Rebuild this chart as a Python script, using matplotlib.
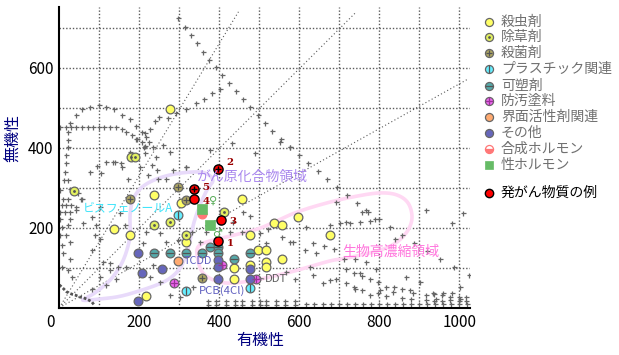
import matplotlib
matplotlib.use('Agg')
import matplotlib.pyplot as plt
from matplotlib.lines import Line2D
import numpy as np

plt.rcParams['font.family'] = ['Noto Sans CJK JP', 'DejaVu Sans']

# ---------------- data (organic value, inorganic value) ----------------
insecticide_x = [277, 137, 177, 237, 305, 318, 457, 537, 557, 597, 678, 477, 498, 518, 518, 518, 557, 437, 437, 217, 477]
insecticide_y = [496, 198, 183, 281, 261, 165, 273, 213, 206, 226, 181, 181, 144, 144, 115, 102, 123, 100, 73, 30, 107]
herbicide_x = [179, 189, 38, 237, 277, 318, 412]
herbicide_y = [377, 377, 291, 207, 215, 182, 240]
fungicide_x = [176, 297, 316, 358]
fungicide_y = [271, 301, 269, 75]
plastic_x = [297, 317, 477]
plastic_y = [232, 42, 50]
plasticizer_x = [237, 277, 317, 358, 378, 398, 398, 437, 477]
plasticizer_y = [137, 137, 137, 137, 152, 152, 137, 121, 137]
antifouling_x = [287, 408, 493]
antifouling_y = [62, 107, 71]
surfactant_x = [296]
surfactant_y = [117]
other_x = [198, 207, 258, 198, 398, 398, 398, 477, 477]
other_y = [137, 86, 97, 17, 119, 101, 71, 98, 71]
synth_hormone_x = [358]
synth_hormone_y = [234]
sex_hormone_x = [356, 377]
sex_hormone_y = [248, 208]
carcinogen_x = [397, 398, 404, 337, 337]
carcinogen_y = [167, 348, 219, 271, 297]
carcinogen_labels = ['1', '2', '3', '4', '5']
carcinogen_cross = [False, True, False, False, True]

legend_labels = ['殺虫剤', '除草剤', '殺菌剤', 'プラスチック関連', '可塑剤', '防汚塗料',
                 '界面活性剤関連', 'その他', '合成ホルモン', '性ホルモン']

# background reference points (+ marks)
bg_x = [57, 78, 99, 118, 137, 158, 177, 193, 206, 216, 225, 235, 243, 43, 27,
        2, 16, 29, 43, 57, 71, 85, 99, 112, 127, 141,
        156, 168, 181, 193, 206, 214, 22, 22, 21, 18, 18, 14,
        239, 250, 277, 260, 95, 118, 139, 158, 177, 318, 317, 272, 292, 341,
        215, 226, 195, 213, 215, 232, 244, 247, 222, 201, 267, 284, 317,
        134, 155, 77, 13, 22, 47, 55, 30, 42, 105, 172,
        22, 27, 2, 10, 6, 18, 2, 14, 27, 2, 27, 6, 22, 2, 18, 6, 27, 10, 27, 6, 22, 31,
        56, 43, 60, 81, 102, 93, 89, 102, 81, 110, 127, 102, 118, 143, 81,
        152, 164, 217, 252, 210, 268, 297, 331, 352, 368, 427, 435, 456, 502, 518, 585, 614, 643,
        718, 756, 768, 789, 839, 918, 981, 1010,
        127, 147, 168, 235, 227, 252, 277, 302, 335,
        568, 589, 627, 635, 660, 693, 718, 739, 752, 802, 835, 885, 918, 943, 981, 1002, 1002,
        718, 737, 757, 777, 797, 818, 837, 858, 878, 937, 958, 978, 999, 1018,
        737, 757, 778, 797, 817, 858, 879, 918, 937, 958, 978, 999, 1018,
        702, 727, 753, 778, 677, 677,
        460, 477, 522, 556, 577, 617, 635, 662, 687, 712, 739, 766, 791, 868, 902, 935, 960,
        377, 431, 489, 552, 577, 693, 362, 381, 402,
        372, 393, 418, 439, 456, 481, 502, 518, 543, 565, 590,
        372, 393, 418, 439, 456, 481, 502, 518, 543, 565, 590,
        617, 638, 660, 680, 700, 720, 740, 760, 780, 800, 820, 840, 860, 880, 900, 920, 940, 960, 980, 1000, 1020]
bg_y = [496, 502, 506, 502, 496, 482, 471, 454, 440, 427, 415, 402, 377, 482, 461,
        452, 452, 452, 452, 452, 452, 452, 452, 452, 452, 452,
        446, 440, 432, 423, 415, 404, 440, 419, 402, 382, 361, 340,
        467, 478, 390, 407, 354, 365, 365, 352, 390, 352, 497, 474, 486, 511,
        436, 448, 421, 401, 386, 357, 344, 323, 332, 351, 321, 344, 351,
        365, 362, 340, 319, 273, 286, 273, 257, 252, 336, 321,
        319, 298, 294, 273, 257, 257, 240, 240, 240, 223, 223, 202, 207, 182, 182, 157, 165, 136, 123, 102, 94, 77,
        273, 244, 211, 227, 252, 207, 182, 173, 144, 115, 94, 77, 57, 73, 48,
        236, 207, 190, 186, 161, 165, 169, 190, 165, 190, 190, 215, 190, 186, 161, 165, 144, 136,
        215, 240, 244, 223, 173, 244, 211, 236,
        111, 102, 102, 107, 77, 65, 32, 27, 52,
        90, 73, 102, 82, 61, 73, 61, 48, 86, 44, 40, 36, 32, 23, 36, 23, 52,
        96, 88, 80, 73, 65, 52, 52, 48, 44, 34, 32, 27, 27, 27,
        51, 44, 33, 38, 29, 25, 23, 19, 17, 17, 19, 17, 17,
        212, 212, 215, 217, 207, 69,
        240, 229, 198, 177, 165, 201, 161, 154, 147, 121, 123, 115, 98, 77, 65, 36, 36,
        394, 411, 386, 415, 402, 265, 522, 536, 546,
        18, 18, 18, 18, 18, 18, 18, 18, 18, 18, 18,
        7, 7, 7, 7, 7, 7, 7, 7, 7, 7, 7,
        9, 9, 9, 9, 9, 9, 9, 9, 9, 9, 9, 9, 9, 9, 9, 9, 9, 9, 9, 9, 9]
# long descending row of + marks
row_x = [298, 314, 329, 344, 359, 375, 392, 408, 424, 442, 460, 478, 498, 515, 533, 555, 578, 600,
         623, 646, 669, 694, 719, 745, 772, 799, 827, 856, 886, 920, 953, 986, 1024]
row_y = [724, 703, 682, 661, 639, 620, 602, 582, 562, 542, 522, 502, 482, 462, 442, 422, 401, 381,
         361, 341, 321, 301, 281, 262, 240, 221, 201, 182, 162, 142, 121, 101, 82]
# dense curve near the origin
dense_x = [0, 6, 10, 14, 18, 24, 31, 39, 50, 60, 70, 81, 87]
dense_y = [57, 52, 48, 44, 40, 37, 34, 32, 27, 25, 21, 15, 7]
# reference rays from the origin: end points
ray_x = [448, 742, 1024]
ray_y = [740, 739, 573]
# region outlines
carc_region_x = [59, 102, 144, 184, 244, 277, 302, 317, 327, 337, 352, 369, 384, 364, 327, 277,
                 232, 202, 184, 177, 177, 169, 154, 127, 89]
carc_region_y = [19, 22, 27, 37, 57, 74, 99, 132, 169, 214, 257, 294, 319, 337, 339, 332,
                 317, 297, 269, 232, 182, 144, 107, 69, 37]
bio_region_x = [352, 427, 502, 589, 669, 744, 802, 844, 872, 882, 872, 844, 802, 719, 677, 589,
                489, 414, 364, 347]
bio_region_y = [157, 179, 199, 237, 262, 279, 287, 282, 262, 227, 194, 164, 144, 124, 117, 92,
                69, 62, 82, 119]

# ---------------- figure ----------------
W, H = 619, 355
fig = plt.figure(figsize=(W / 100, H / 100), dpi=100)
ax = fig.add_axes([59.3 / W, 1 - 307.7 / H, (470 - 59.3) / W, (307.7 - 7) / H])
ax.set_xlim(0, 1027)
ax.set_ylim(0, 752)

for s in ['top', 'right']:
    ax.spines[s].set_visible(False)
for s in ['left', 'bottom']:
    ax.spines[s].set_linewidth(1.5)
    ax.spines[s].set_color('black')
    ax.spines[s].set_zorder(10)

ax.set_xticks([200, 400, 600, 800, 1000])
ax.set_xticks([100, 300, 500, 700, 900], minor=True)
ax.set_yticks([200, 400, 600])
ax.set_yticks([100, 300, 500, 700], minor=True)
ax.tick_params(which='both', length=0, labelsize=11, colors='black')
ax.tick_params(axis='x', pad=4.5)
ax.tick_params(axis='y', pad=4)
ax.grid(which='both', color='#5a5a5a', linewidth=1.0, linestyle=(0, (1, 1.4)), zorder=0)
ax.set_axisbelow(True)
ax.annotate('0', xy=(0, 0), xycoords='data', xytext=(-6.5, -4.5), textcoords='offset points',
            ha='center', va='top', fontsize=11, annotation_clip=False)


def smooth_closed(xs, ys, n=14):
    P = np.column_stack([xs, ys]).astype(float)
    N = len(P)
    out = []
    t = np.linspace(0, 1, n, endpoint=False)[:, None]
    for i in range(N):
        p0, p1, p2, p3 = P[i - 1], P[i], P[(i + 1) % N], P[(i + 2) % N]
        out.append(0.5 * (2 * p1 + (-p0 + p2) * t + (2 * p0 - 5 * p1 + 4 * p2 - p3) * t ** 2
                          + (-p0 + 3 * p1 - 3 * p2 + p3) * t ** 3))
    out.append(P[:1])
    out = np.vstack(out)
    return out[:, 0], out[:, 1]


# rays
for ex, ey in zip(ray_x, ray_y):
    ax.plot([0, ex], [0, ey], color='#5a5a5a', lw=0.8, ls=(0, (1, 2.2)), zorder=1)

# regions
sx, sy = smooth_closed(carc_region_x, carc_region_y)
ax.plot(sx, sy, color='#E8DAFA', lw=2.6, zorder=1.5, solid_capstyle='round')
sx, sy = smooth_closed(bio_region_x, bio_region_y)
ax.plot(sx, sy, color='#FFD8F3', lw=2.6, zorder=1.5, solid_capstyle='round')

# background + marks
ax.plot(bg_x, bg_y, ls='none', marker='+', ms=3.6, mew=0.9, color='#666666', zorder=2)
ax.plot(row_x, row_y, ls='none', marker='+', ms=3.6, mew=0.9, color='#666666', zorder=2)
ax.plot(dense_x, dense_y, color='#555555', lw=2.0, ls=(0, (1, 0.7)), zorder=2)

EDGE = '#666666'
styles = [
    (insecticide_x, insecticide_y, '#FFFF66', None, 0),
    (herbicide_x, herbicide_y, '#E2F060', ('.', 2.2), 0),
    (fungicide_x, fungicide_y, '#B0A862', ('+', 4.2), 0),
    (plastic_x, plastic_y, '#66EEFF', ('|', 6.0), 0),
    (plasticizer_x, plasticizer_y, '#55AAAA', ('_', 6.0), 0),
    (antifouling_x, antifouling_y, '#EE66EE', ('+', 6.0), 0),
    (surfactant_x, surfactant_y, '#FFAA70', None, 0),
    (other_x, other_y, '#6666BB', None, 0),
]
MS = 6.3
for xs, ys, fc, deco, _ in styles:
    ax.plot(xs, ys, ls='none', marker='o', ms=MS, mfc=fc, mec=EDGE, mew=0.9, zorder=5)
    if deco is not None:
        dc = '#993399' if fc == '#EE66EE' else '#555555'
        ax.plot(xs, ys, ls='none', marker=deco[0], ms=deco[1], color=dc, mew=0.9, zorder=5.1)

ax.plot(synth_hormone_x, synth_hormone_y, ls='none', marker='o', ms=MS, fillstyle='bottom',
        mfc='#FF7777', mfcalt='white', mec='#FF7777', mew=0.9, zorder=5)
ax.plot(sex_hormone_x, sex_hormone_y, ls='none', marker='s', ms=7.2, mfc='#66BB66',
        mec='#66BB66', mew=0.5, zorder=5.2)
ax.plot(carcinogen_x, carcinogen_y, ls='none', marker='o', ms=6.6, mfc='#FF0000',
        mec='black', mew=1.0, zorder=6)
cx = [x for x, c in zip(carcinogen_x, carcinogen_cross) if c]
cy = [y for y, c in zip(carcinogen_y, carcinogen_cross) if c]
ax.plot(cx, cy, ls='none', marker='+', ms=4, mew=1.0, color='black', zorder=6.1)
label_dy = [-2.2, 4.5, -1, -1.8, 1.2]
for x, y, lab, dy in zip(carcinogen_x, carcinogen_y, carcinogen_labels, label_dy):
    ax.annotate(lab, xy=(x, y), xytext=(6, dy), textcoords='offset points', ha='left',
                va='center', fontsize=7.4, color='#990000', fontweight='bold',
                family='DejaVu Serif', zorder=7)

# sex symbols
ax.annotate('♀', xy=(sex_hormone_x[0], sex_hormone_y[0]), xytext=(8.5, 5.5), textcoords='offset points',
            ha='center', va='center', fontsize=8, color='#55AA55', family='DejaVu Sans', zorder=7)
ax.annotate('♂', xy=(sex_hormone_x[1], sex_hormone_y[1]), xytext=(5, -6.5), textcoords='offset points',
            ha='center', va='center', fontsize=8, color='#55AA55', family='DejaVu Sans', zorder=7)

# region / compound labels
ax.text(480, 328, 'がん原化合物領域', ha='center', va='center', fontsize=10, color='#AA88EE', zorder=8)
ax.text(830, 140, '生物高濃縮領域', ha='center', va='center', fontsize=10, color='#FF77DD', zorder=8)
ax.text(173, 249, 'ビスフェノールA', ha='center', va='center', fontsize=8.6, color='#3FE4FA', zorder=8)
ax.text(383, 117, 'TCDD', ha='right', va='center', fontsize=7.8, color='#6060C0', zorder=8)
ax.text(349, 42, 'PCB(4Cl)', ha='left', va='center', fontsize=8.2, color='#6060C0', zorder=8)
ax.text(514, 72, 'DDT', ha='left', va='center', fontsize=8.2, color='#606060', zorder=8)
ax.plot([500, 511], [74, 72], color='#777777', lw=0.8, zorder=7)

# axis titles
fig.text(260 / W, 1 - 341 / H, '有機性', ha='center', va='center', fontsize=11.5, color='#000080')
fig.text(14 / W, 1 - 138 / H, '無機性', ha='center', va='center', fontsize=11.5, color='#000080',
         rotation=90)

# ---------------- legend (drawn manually) ----------------
leg_rows = [21.5, 36.5, 52.5, 69, 85.5, 100.5, 117, 133.3, 149.3, 164.8]
mx = 489 / W
tx = 501 / W
LMS = 5.8
for i, (lab, py) in enumerate(zip(legend_labels, leg_rows)):
    fy = 1 - py / H
    if i < 8:
        fc, deco = styles[i][2], styles[i][3]
        fig.add_artist(Line2D([mx], [fy], transform=fig.transFigure, ls='none', marker='o',
                              ms=LMS, mfc=fc, mec=EDGE, mew=0.9))
        if deco is not None:
            dc = '#993399' if fc == '#EE66EE' else '#555555'
            fig.add_artist(Line2D([mx], [fy], transform=fig.transFigure, ls='none',
                                  marker=deco[0], ms=deco[1] * 0.92, color=dc, mew=0.9))
    elif i == 8:
        fig.add_artist(Line2D([mx], [fy], transform=fig.transFigure, ls='none', marker='o',
                              ms=LMS, fillstyle='bottom', mfc='#FF7777', mfcalt='white',
                              mec='#FF7777', mew=0.9))
    else:
        fig.add_artist(Line2D([mx], [fy], transform=fig.transFigure, ls='none', marker='s',
                              ms=6.2, mfc='#66BB66', mec='#66BB66', mew=0.5))
    fig.text(tx, fy, lab, ha='left', va='center', fontsize=10, color='#707070')

fy = 1 - 193.3 / H
fig.add_artist(Line2D([mx], [fy], transform=fig.transFigure, ls='none', marker='o', ms=6.0,
                      mfc='#FF0000', mec='black', mew=1.0))
fig.text(tx, fy, '発がん物質の例', ha='left', va='center', fontsize=10, color='black')

fig.savefig('out.png', dpi=100)
